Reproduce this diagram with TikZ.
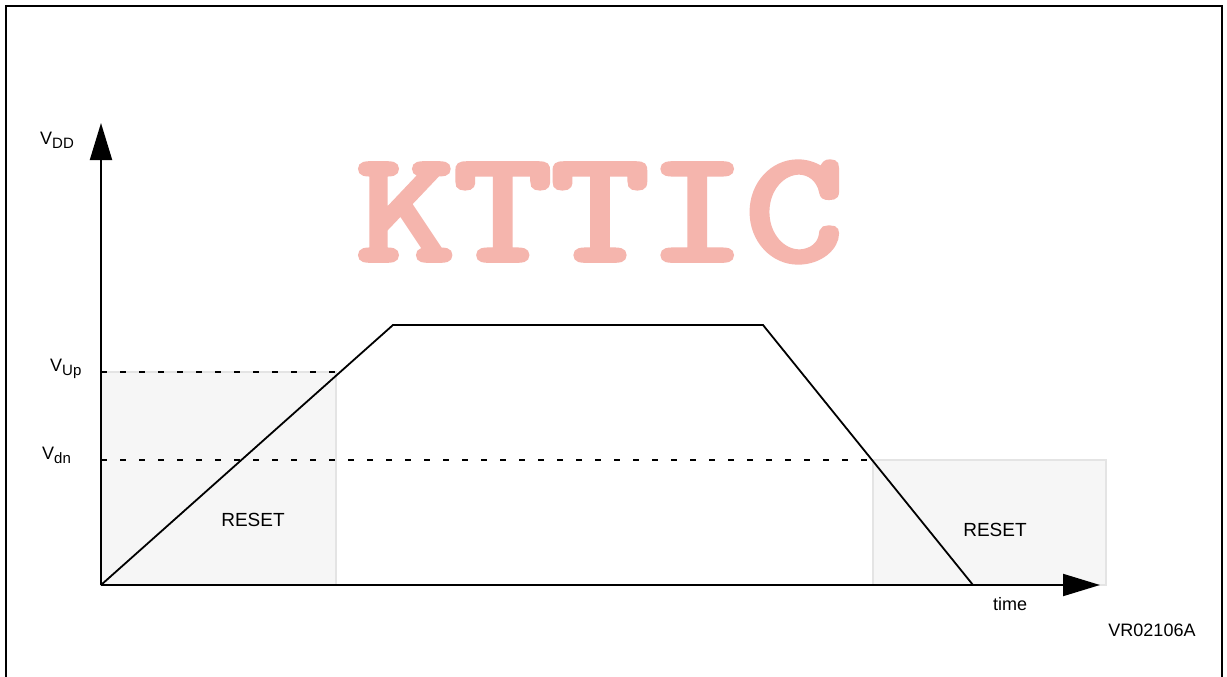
\documentclass[tikz,border=0pt]{standalone}
\usepackage{fontspec}
\setmainfont{Liberation Sans}
\newfontfamily\wmfont{Latin Modern Mono}[FakeBold=4]
\usetikzlibrary{arrows.meta}
\definecolor{wm}{HTML}{F5B5AD}
\definecolor{resetfill}{HTML}{F6F6F6}
\definecolor{resetdraw}{HTML}{E4E4E4}
\newcommand{\lowidx}[1]{\raisebox{-0.45ex}{\fontsize{15}{15}\selectfont #1}}
\tikzset{
  axis/.style={line width=2pt,-{Triangle[length=37pt,width=22pt]}},
  curve/.style={line width=1.8pt,line join=miter},
  level/.style={line width=1.6pt,dash pattern=on 6pt off 13pt},
  resetbox/.style={fill=resetfill,draw=resetdraw,line width=1.2pt},
  lbl/.style={inner sep=0pt,font=\fontsize{18}{18}\selectfont},
}
\begin{document}
\begin{tikzpicture}[x=1pt,y=-1pt]
\useasboundingbox (0,0) rectangle (1227,677);
\fill[white] (0,0) rectangle (1227,677);
\draw[line width=2pt] (6,700) -- (6,6) -- (1222,6) -- (1222,700);
% watermark
\node[inner sep=0pt,text=wm,xscale=1.21,transform shape,font=\wmfont\fontsize{156}{156}\selectfont] (wm) at (600,212) {KTTIC};
% reset regions
\draw[resetbox] (101,372) rectangle (336,585);
\draw[resetbox] (873,460) rectangle (1106,585);
\node[lbl,font=\fontsize{19}{19}\selectfont] (r1) at (253,520) {RESET};
\node[lbl,font=\fontsize{19}{19}\selectfont] (r2) at (995,530) {RESET};
% coordinates
\coordinate (o) at (101,585);
\coordinate (ytip) at (101,123);
\coordinate (xtip) at (1100,585);
\coordinate (up0) at (101,372);
\coordinate (up1) at (336,372);
\coordinate (dn0) at (101,460);
\coordinate (dn1) at (873,460);
\coordinate (p1) at (393,325);
\coordinate (p2) at (763,325);
\coordinate (p3) at (973,585);
% levels
\draw[level] (up0) -- (up1);
\draw[level] (dn0) -- (dn1);
% curve
\draw[curve] (o) -- (p1) -- (p2) -- (p3);
% axes
\draw[axis] (o) -- (ytip);
\draw[axis] (o) -- (xtip);
% labels
\node[lbl,anchor=base west] (vdd) at (40,144) {V\lowidx{DD}};
\node[lbl,anchor=base west] (vup) at (50,371) {V\lowidx{Up}};
\node[lbl,anchor=base west] (vdn) at (42,459) {V\lowidx{dn}};
\node[lbl] (time) at (1010,604) {time};
\node[lbl] (code) at (1152,630) {VR02106A};
\end{tikzpicture}
\end{document}
